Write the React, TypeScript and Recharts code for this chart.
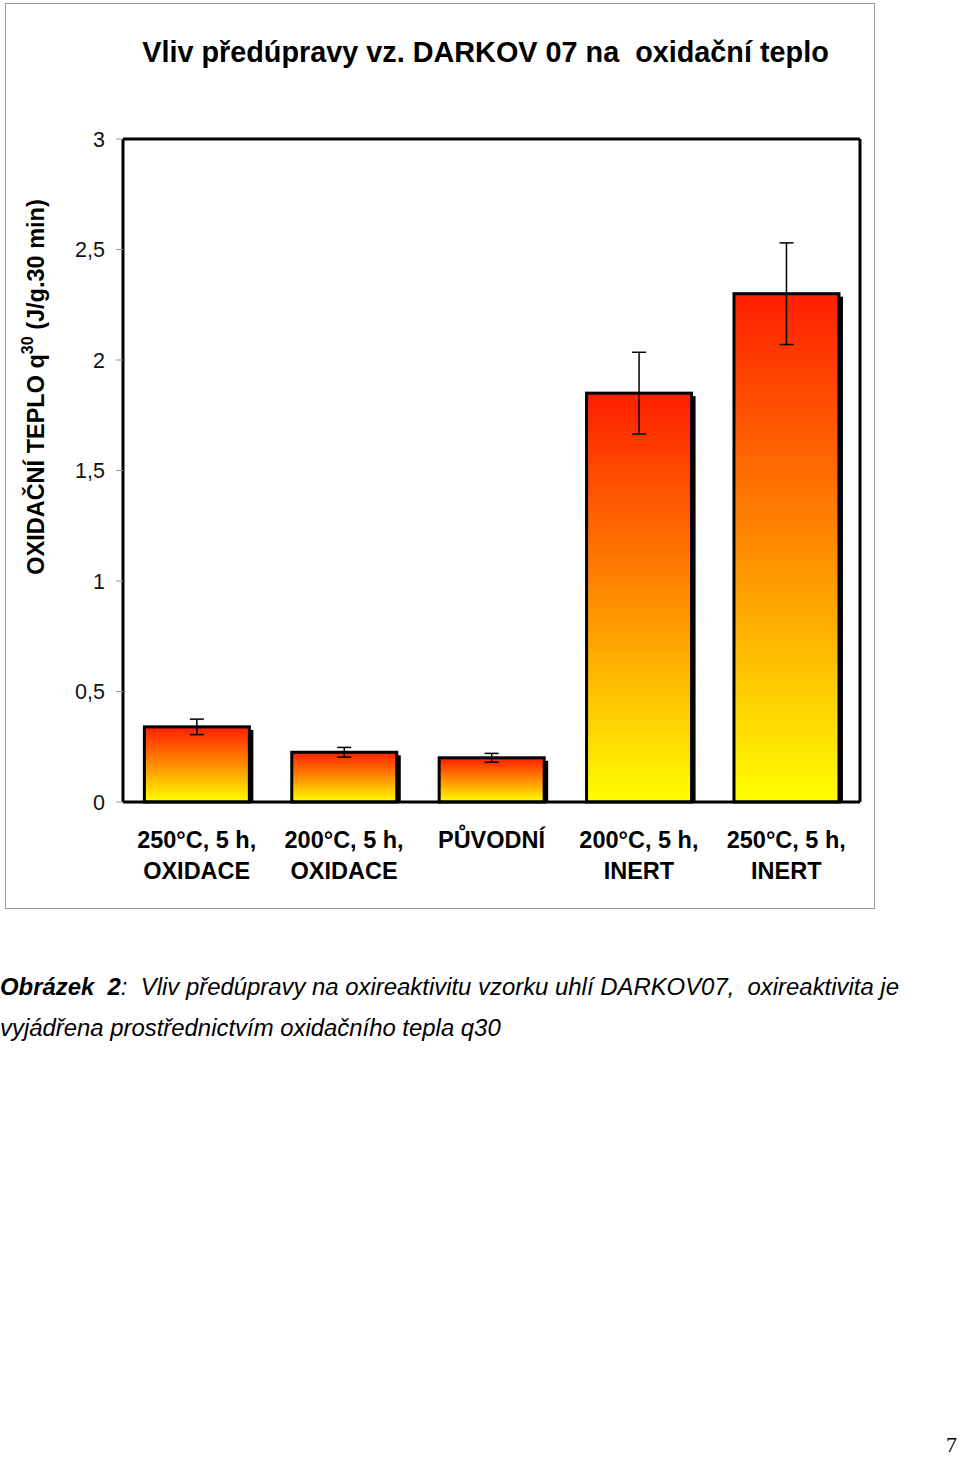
import { BarChart, Bar, XAxis, YAxis, ErrorBar } from 'recharts'

const labelTop = ['250°C, 5 h,', '200°C, 5 h,', 'PŮVODNÍ', '200°C, 5 h,', '250°C, 5 h,']
const labelBottom = ['OXIDACE', 'OXIDACE', '', 'INERT', 'INERT']
const heat = [0.34, 0.225, 0.2, 1.85, 2.3]
const heatErr = [0.035, 0.022, 0.02, 0.185, 0.23]
const yTicks = [0, 0.5, 1, 1.5, 2, 2.5, 3]
const boundaryTicks = [0, 1, 2, 3, 4, 5]

const data = heat.map((v, i) => ({ idx: i, value: v, err: heatErr[i] }))

const sans = '"Liberation Sans", Arial, sans-serif'

function CategoryTick(props: any) {
  const { x, y, payload } = props
  const i = payload.value as number
  return (
    <text x={x} y={y} textAnchor="middle" fontFamily={sans} fontWeight="bold" fontSize={23.5} fill="#000">
      <tspan x={x} dy={45}>{labelTop[i]}</tspan>
      <tspan x={x} dy={31}>{labelBottom[i]}</tspan>
    </text>
  )
}

function ShadowBar(props: any) {
  const { x, y, width, height } = props
  return (
    <g>
      <rect x={x + 4} y={y + 3} width={width} height={height - 3} fill="#000" />
      <rect x={x} y={y} width={width} height={height} fill="url(#heatGrad)" stroke="#000" strokeWidth={3} />
    </g>
  )
}

function AxisTitle() {
  const cy = 387
  const cx = 36
  return (
    <text
      x={cx}
      y={cy}
      transform={`rotate(-90 ${cx} ${cy})`}
      textAnchor="middle"
      dominantBaseline="central"
      fontFamily={sans}
      fontWeight="bold"
      fontSize={23.5}
      fill="#000"
    >
      OXIDAČNÍ TEPLO q<tspan dy={-9} fontSize={16}>30</tspan>
      <tspan dy={9}> (J/g.30 min)</tspan>
    </text>
  )
}

export default function App() {
  return (
    <div style={{ position: 'absolute', left: 0, top: 0, width: 960, height: 1457, background: '#fff' }}>
      <div
        style={{
          position: 'absolute',
          left: 5,
          top: 3,
          width: 868,
          height: 904,
          border: '1px solid #9a9a9a',
        }}
      />
      <div
        style={{
          position: 'absolute',
          left: 0,
          top: 35,
          width: 971,
          textAlign: 'center',
          fontFamily: sans,
          fontWeight: 'bold',
          fontSize: 28.8,
          lineHeight: '34px',
          color: '#000',
          whiteSpace: 'nowrap',
        }}
      >
        Vliv předúpravy vz. DARKOV 07 na&nbsp; oxidační teplo
      </div>
      <div style={{ position: 'absolute', left: 0, top: 0 }}>
        <BarChart
          width={960}
          height={920}
          data={data}
          margin={{ top: 138, right: 99, bottom: 0, left: 0 }}
          barCategoryGap="14.5%"
        >
          <defs>
            <linearGradient id="heatGrad" x1="0" y1="0" x2="0" y2="1">
              <stop offset="0%" stopColor="#ff1e00" />
              <stop offset="50%" stopColor="#ff8c00" />
              <stop offset="100%" stopColor="#ffff00" />
            </linearGradient>
          </defs>
          <XAxis
            xAxisId={0}
            type="number"
            domain={[0, 5]}
            ticks={boundaryTicks}
            height={1}
            axisLine={{ stroke: '#000', strokeWidth: 3 }}
            tick={false}
            tickSize={7}
            tickLine={{ stroke: '#999', strokeWidth: 1 }}
          />
          <XAxis
            xAxisId="cat"
            dataKey="idx"
            type="category"
            height={117}
            tickLine={false}
            tickSize={0}
            tickMargin={0}
            axisLine={false}
            tick={<CategoryTick />}
            interval={0}
          />
          <XAxis
            xAxisId="t"
            orientation="top"
            type="number"
            domain={[0, 5]}
            height={1}
            tick={false}
            tickLine={false}
            axisLine={{ stroke: '#000', strokeWidth: 3 }}
          />
          <YAxis
            width={123}
            domain={[0, 3]}
            ticks={yTicks}
            interval={0}
            tickFormatter={(v) => String(v).replace('.', ',')}
            tick={{ fontFamily: sans, fontSize: 21.5, fill: '#111' }}
            tickSize={7}
            tickMargin={11}
            tickLine={{ stroke: '#999', strokeWidth: 1 }}
            axisLine={{ stroke: '#000', strokeWidth: 3 }}
            label={<AxisTitle />}
          />
          <YAxis
            yAxisId="r"
            orientation="right"
            width={1}
            domain={[0, 3]}
            tick={false}
            tickLine={false}
            axisLine={{ stroke: '#000', strokeWidth: 3 }}
          />
          <Bar dataKey="value" xAxisId="cat" shape={<ShadowBar />} isAnimationActive={false}>
            <ErrorBar dataKey="err" width={7} stroke="#000" strokeWidth={1.5} />
          </Bar>
        </BarChart>
      </div>
      <div
        style={{
          position: 'absolute',
          left: 0,
          top: 966,
          width: 960,
          fontFamily: sans,
          fontStyle: 'italic',
          fontSize: 23.9,
          lineHeight: '41px',
          color: '#000',
          whiteSpace: 'nowrap',
        }}
      >
        <div>
          <b>Obrázek&nbsp; 2</b>:&nbsp; Vliv předúpravy na oxireaktivitu vzorku uhlí DARKOV07,&nbsp; oxireaktivita je
        </div>
        <div>vyjádřena prostřednictvím oxidačního tepla q30</div>
      </div>
      <div
        style={{
          position: 'absolute',
          right: 3,
          top: 1432,
          fontFamily: '"Liberation Serif", serif',
          fontSize: 22,
          color: '#000',
        }}
      >
        7
      </div>
    </div>
  )
}
